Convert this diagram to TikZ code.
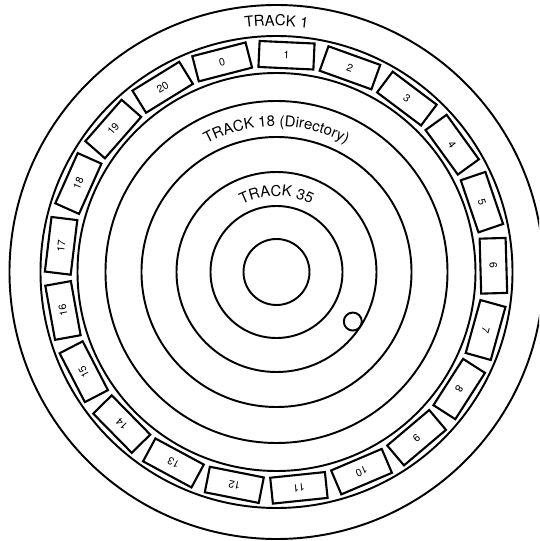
\documentclass[tikz,border=0pt]{standalone}
\usepackage{fontspec}
\setmainfont{TeX Gyre Heros}
\usetikzlibrary{decorations.text}

\begin{document}
\begin{tikzpicture}[x=0.02cm,y=0.02cm,line width=1.1pt,
    sector/.style={draw,line width=1.2pt,minimum width=1.1cm,minimum height=0.52cm,inner sep=0pt,font=\fontsize{6}{7}\selectfont},
    tracklabel/.style={decorate,decoration={text along path,text align=center,text={|\fontsize{8.5}{10}\selectfont|#1}}}]
    \useasboundingbox (-276.5,-269) rectangle (262.5,272);
    \clip (-276.5,-269) rectangle (262.5,272);
    % disk and tracks
    \foreach \r in {267,236,199,171,135,100,66,33}
      \draw (0,0) circle[radius=\r];
    % sectors of track 1
    \foreach \k in {0,...,20}
      \node[sector,rotate={14.5-\k*360/21}] (s\k) at ({104.5-\k*360/21}:217) {\k};
    % index hole
    \coordinate (hole) at (-33:91);
    \draw (hole) circle[radius=9];
    % labels
    \path[tracklabel={TRACK 1}] (180:246) arc[start angle=180,end angle=0,radius=246];
    \path[tracklabel={TRACK 18 (Directory)}] (180:146) arc[start angle=180,end angle=0,radius=146];
    \path[tracklabel={TRACK 35}] (180:76) arc[start angle=180,end angle=0,radius=76];
\end{tikzpicture}
\end{document}
